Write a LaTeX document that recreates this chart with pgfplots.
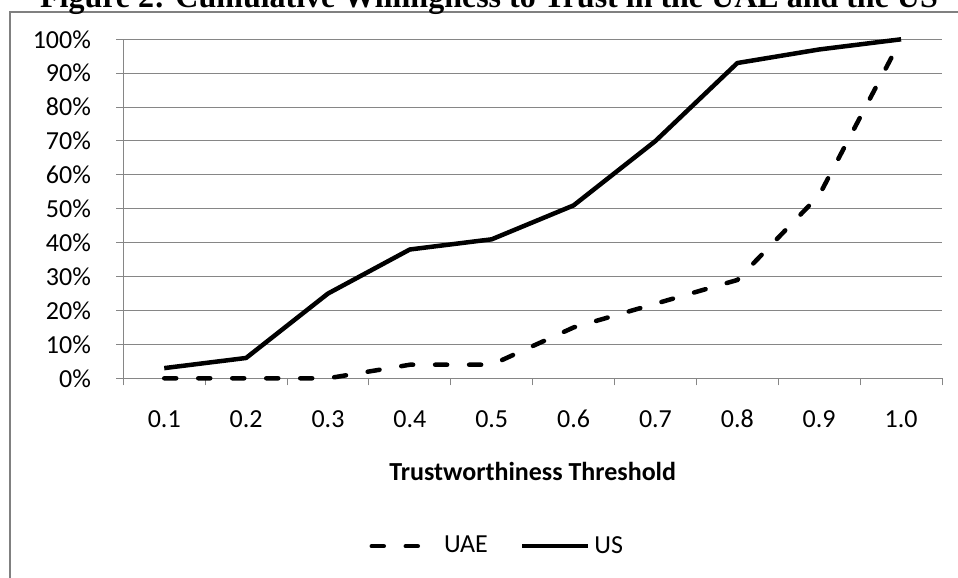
\documentclass[border=0pt]{standalone}
\usepackage{pgfplots}
\pgfplotsset{compat=1.18}
\usepackage{fontspec}
\setmainfont{Carlito}
\newfontfamily\titlefont{Liberation Serif}
\definecolor{gridgray}{RGB}{134,134,134}
\definecolor{framegray}{RGB}{128,128,128}
\newcommand{\cfont}{\fontsize{13}{15.6}\selectfont}
\begin{document}
\begin{tikzpicture}
\useasboundingbox (0,0) rectangle (479pt,289pt);
\clip (0,0) rectangle (479pt,289pt);
\draw[framegray, line width=1pt] (5pt,-20pt) rectangle (520pt,283pt);
\node[anchor=base, inner sep=0pt, font=\titlefont\bfseries\fontsize{16}{19}\selectfont] at (244.5pt,285pt) {Figure 2: Cumulative Willingness to Trust in the UAE and the US};
\begin{axis}[
  at={(61.65pt,99.85pt)}, anchor=south west,
  width=409.35pt, height=169.5pt, scale only axis,
  xmin=0.5, xmax=10.5, ymin=0, ymax=100,
  axis lines*=left,
  axis line style={-, gridgray, line width=0.5pt},
  clip=false,
  tick align=outside,
  major tick length=3.5pt,
  every tick/.style={gridgray, line width=0.5pt},
  ymajorgrids=true,
  grid style={gridgray, line width=0.5pt},
  ytick={0,10,...,100},
  yticklabels={0\%,10\%,20\%,30\%,40\%,50\%,60\%,70\%,80\%,90\%,100\%},
  yticklabel style={anchor=east, inner sep=0pt, xshift=-12.5pt},
  xtick={0.5,1.5,...,10.5},
  xticklabels={},
  extra x ticks={1,2,...,10},
  extra x tick labels={0.1,0.2,0.3,0.4,0.5,0.6,0.7,0.8,0.9,1.0},
  extra x tick style={major tick length=0pt, grid=none, tick label style={anchor=base, inner sep=0pt, yshift=-24.85pt}},
  tick label style={font=\cfont, text=black},
  xlabel={\bfseries Trustworthiness Threshold},
  xlabel style={at={(axis description cs:0.5,-0.302)}, anchor=base, font=\cfont, inner sep=0pt},
  legend columns=2,
  legend image code/.code={\draw[#1] (0pt,0pt) -- (33pt,0pt);},
  legend style={at={(axis description cs:0.458,-0.495)}, anchor=center, draw=none, font=\cfont,
    /tikz/every even column/.append style={column sep=14pt}},
]
\addplot[black, line width=2.25pt, line cap=round, dash pattern=on 6pt off 11pt] coordinates {(1,0)(2,0)(3,0)(4,4)(5,4)(6,15)(7,22)(8,29)(9,54)(10,100)};
\addlegendentry{UAE}
\addplot[black, line width=2.25pt, line join=round] coordinates {(1,3)(2,6)(3,25)(4,38)(5,41)(6,51)(7,70)(8,93)(9,97)(10,100)};
\addlegendentry{US}
\end{axis}
\end{tikzpicture}
\end{document}
